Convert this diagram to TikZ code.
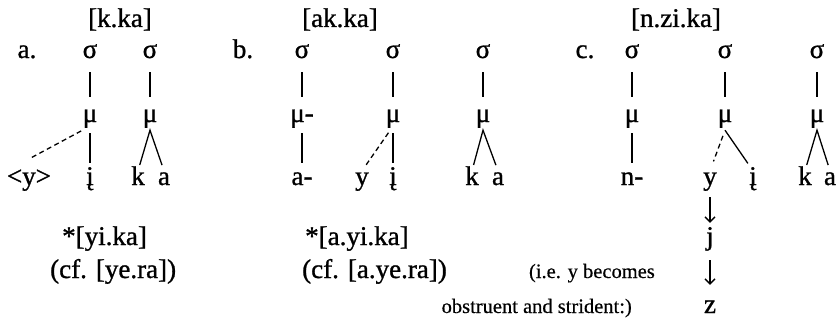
\documentclass[tikz,border=0pt]{standalone}
\usepackage{fontspec}
\setmainfont{Liberation Serif}
\newfontfamily\scanfont{Liberation Serif}[FakeBold=1]
\newfontfamily\notefont{Liberation Serif}[FakeBold=0.4]
\usetikzlibrary{arrows.meta}
\begin{document}
\begin{tikzpicture}[x=1pt,y=-1pt,
    seg/.style={inner sep=0pt,anchor=base,text height=14pt,text depth=4pt,font=\scanfont\fontsize{27}{30}\selectfont},
    gloss/.style={inner sep=0pt,anchor=base west,font=\scanfont\fontsize{27}{30}\selectfont},
    remark/.style={inner sep=0pt,anchor=base east,font=\notefont\fontsize{20.5}{24}\selectfont},
    stem/.style={line width=1.3pt,shorten <=10pt,shorten >=11pt},
    branch/.style={line width=1.3pt,shorten <=7pt,shorten >=8pt},
    assoc/.style={line width=1.3pt,dash pattern=on 5pt off 3.5pt},
    change/.style={line width=1.3pt,-{Straight Barb[length=5pt,width=10pt]}}]
  \useasboundingbox (0,0) rectangle (837,324);
  \node[seg] (ta) at (120,27) {[k.ka]};
  \node[seg] (tb) at (340,27) {[ak.ka]};
  \node[seg] (tc) at (676,27) {[n.zi.ka]};
  \node[seg] (la) at (27,58) {a.};
  \node[seg] (lb) at (243,58) {b.};
  \node[seg] (lc) at (585,58) {c.};
  \node[seg] (as1) at (90,58) {σ};
  \node[seg] (as2) at (150,58) {σ};
  \node[seg] (am1) at (90,122) {μ};
  \node[seg] (am2) at (150,122) {μ};
  \node[seg] (ay) at (29,185) {<y>};
  \node[seg] (ai) at (90,185) {į};
  \node[seg] (ak) at (138,185) {k};
  \node[seg] (aa) at (164,185) {a};
  \draw[stem] (as1) -- (am1);
  \draw[stem] (as2) -- (am2);
  \draw[branch] (am1) -- (ai);
  \draw[assoc,shorten <=10pt,shorten >=28pt] (am1.south) -- (ay.north west);
  \draw[branch,shorten <=6pt,shorten >=6pt] (ak.north) -- ([yshift=-4pt]am2.south) -- (aa.north);
  \node[seg] (bs1) at (302,58) {σ};
  \node[seg] (bs2) at (393,58) {σ};
  \node[seg] (bs3) at (483,58) {σ};
  \node[seg] (bm1) at (302,122) {μ-};
  \node[seg] (bm2) at (393,122) {μ};
  \node[seg] (bm3) at (483,122) {μ};
  \node[seg] (ba) at (302,185) {a-};
  \node[seg] (by) at (362,185) {y};
  \node[seg] (bi) at (393,185) {į};
  \node[seg] (bk) at (472,185) {k};
  \node[seg] (ba2) at (498,185) {a};
  \draw[stem] (bs1) -- (bm1);
  \draw[stem] (bs2) -- (bm2);
  \draw[stem] (bs3) -- (bm3);
  \draw[branch] (bm1) -- (ba);
  \draw[branch] (bm2) -- (bi);
  \draw[assoc,shorten <=8pt,shorten >=4pt] (bm2.south) -- (by.north);
  \draw[branch,shorten <=6pt,shorten >=6pt] (bk.north) -- ([yshift=-4pt]bm3.south) -- (ba2.north);
  \node[seg] (cs1) at (632,58) {σ};
  \node[seg] (cs2) at (725,58) {σ};
  \node[seg] (cs3) at (817,58) {σ};
  \node[seg] (cm1) at (632,122) {μ};
  \node[seg] (cm2) at (725,122) {μ};
  \node[seg] (cm3) at (817,122) {μ};
  \node[seg] (cn) at (632,185) {n-};
  \node[seg] (cy) at (710,185) {y};
  \node[seg] (ci) at (753,185) {į};
  \node[seg] (ck) at (805,185) {k};
  \node[seg] (ca) at (830,185) {a};
  \node[seg] (cj) at (710,245) {j};
  \node[seg] (cz) at (710,313) {z};
  \draw[stem] (cs1) -- (cm1);
  \draw[stem] (cs2) -- (cm2);
  \draw[stem] (cs3) -- (cm3);
  \draw[branch] (cm1) -- (cn);
  \draw[assoc,shorten <=6pt,shorten >=10pt] ([yshift=-4pt]cm2.south) -- (cy.north);
  \draw[branch,shorten <=0pt,shorten >=9pt] ([yshift=-4pt]cm2.south) -- (ci.north);
  \draw[branch,shorten <=6pt,shorten >=6pt] (ck.north) -- ([yshift=-4pt]cm3.south) -- (ca.north);
  \draw[change,shorten <=8pt,shorten >=8pt] (cy) -- (cj);
  \draw[change,shorten <=11pt,shorten >=14pt] (cj) -- (cz);
  \node[gloss] (sa) at (62,245) {*[yi.ka]};
  \node[gloss] (ra) at (50,278) {(cf. [ye.ra])};
  \node[gloss] (sb) at (305,245) {*[a.yi.ka]};
  \node[gloss] (rb) at (302,278) {(cf. [a.ye.ra])};
  \node[remark] (ie1) at (655,278) {(i.e. y becomes};
  \node[remark] (ie2) at (632,313) {obstruent and strident:)};
\end{tikzpicture}
\end{document}
